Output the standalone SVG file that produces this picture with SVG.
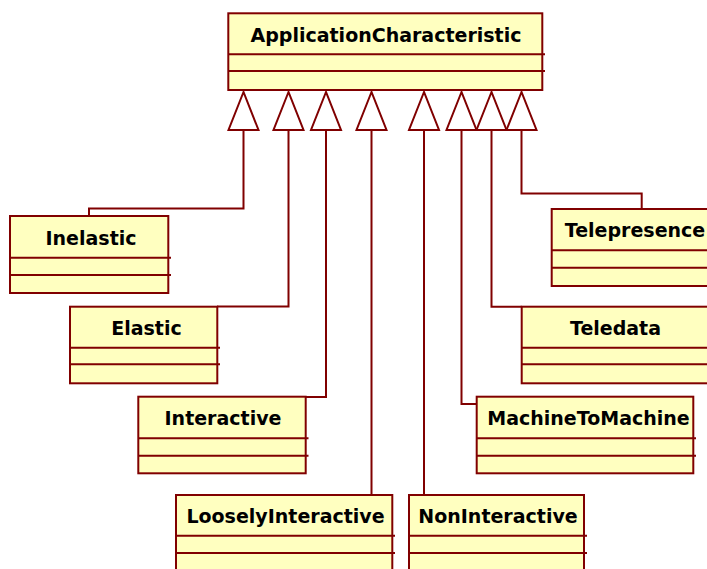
<svg xmlns="http://www.w3.org/2000/svg" width="707" height="569" viewBox="0 0 707 569">
  <style>
    .box { fill: #ffffc0; stroke: #800000; stroke-width: 2; }
    .div { stroke: #800000; stroke-width: 2; fill: none; }
    .name { font-family: "DejaVu Sans", Verdana, sans-serif; font-weight: bold; font-size: 19px; fill: #000; text-anchor: middle; }
    .edge { fill: none; stroke: #800000; stroke-width: 2; }
    .tri { fill: #ffffff; stroke: #800000; stroke-width: 2; stroke-linejoin: miter; }
  </style>
  <rect width="707" height="569" fill="#ffffff"/>

  <!-- generalization connectors -->
  <g id="connectors">
    <path class="edge" d="M89,216 V208.5 H243.5 V130"/>
    <path class="edge" d="M217,306.5 H288.5 V130"/>
    <path class="edge" d="M306,397 H326 V130"/>
    <path class="edge" d="M371.5,495 V130"/>
    <path class="edge" d="M424,495 V130"/>
    <path class="edge" d="M476.7,404 H461.5 V130"/>
    <path class="edge" d="M521.7,306.7 H491.5 V130"/>
    <path class="edge" d="M641.7,209 V193.5 H521.5 V130"/>
    <!-- hollow inheritance heads -->
    <polygon class="tri" points="243.5,92 228.5,130 258.5,130"/>
    <polygon class="tri" points="288.5,92 273.5,130 303.5,130"/>
    <polygon class="tri" points="326,92 311,130 341,130"/>
    <polygon class="tri" points="371.5,92 356.5,130 386.5,130"/>
    <polygon class="tri" points="424,92 409,130 439,130"/>
    <polygon class="tri" points="461.5,92 446.5,130 476.5,130"/>
    <polygon class="tri" points="491.5,92 476.5,130 506.5,130"/>
    <polygon class="tri" points="521.5,92 506.5,130 536.5,130"/>
  </g>

  <g id="ApplicationCharacteristic">
    <rect class="box" x="228.3" y="13.3" width="314" height="76.7"/>
    <path class="div" d="M228.3,54.3 H545 M228.3,71 H545"/>
    <text class="name" x="386" y="42">ApplicationCharacteristic</text>
  </g>

  <g id="Inelastic">
    <rect class="box" x="10" y="216" width="158.3" height="77"/>
    <path class="div" d="M10,257.7 H171 M10,275 H171"/>
    <text class="name" x="91" y="244.5">Inelastic</text>
  </g>

  <g id="Elastic">
    <rect class="box" x="70" y="306.7" width="147.3" height="76.6"/>
    <path class="div" d="M70,347.7 H220 M70,364.3 H220"/>
    <text class="name" x="146.5" y="334.5">Elastic</text>
  </g>

  <g id="Interactive">
    <rect class="box" x="138.3" y="396.7" width="167.4" height="76.6"/>
    <path class="div" d="M138.3,438.3 H308.5 M138.3,455.7 H308.5"/>
    <text class="name" x="223" y="425">Interactive</text>
  </g>

  <g id="LooselyInteractive">
    <rect class="box" x="176" y="495" width="216.3" height="80"/>
    <path class="div" d="M176,535.7 H395 M176,553 H395"/>
    <text class="name" x="285.5" y="523">LooselyInteractive</text>
  </g>

  <g id="NonInteractive">
    <rect class="box" x="409" y="495" width="175" height="80"/>
    <path class="div" d="M409,535.7 H587 M409,553 H587"/>
    <text class="name" x="498" y="523">NonInteractive</text>
  </g>

  <g id="MachineToMachine">
    <rect class="box" x="476.7" y="396.7" width="216.6" height="76.6"/>
    <path class="div" d="M476.7,438.3 H696 M476.7,455.7 H696"/>
    <text class="name" x="588.5" y="425">MachineToMachine</text>
  </g>

  <g id="Teledata">
    <rect class="box" x="521.7" y="306.7" width="188" height="76.6"/>
    <path class="div" d="M521.7,347.7 H712 M521.7,364.3 H712"/>
    <text class="name" x="615.5" y="334.5">Teledata</text>
  </g>

  <g id="Telepresence">
    <rect class="box" x="551.7" y="209" width="168" height="77"/>
    <path class="div" d="M551.7,250.3 H722 M551.7,267.7 H722"/>
    <text class="name" x="635" y="237">Telepresence</text>
  </g>
</svg>
